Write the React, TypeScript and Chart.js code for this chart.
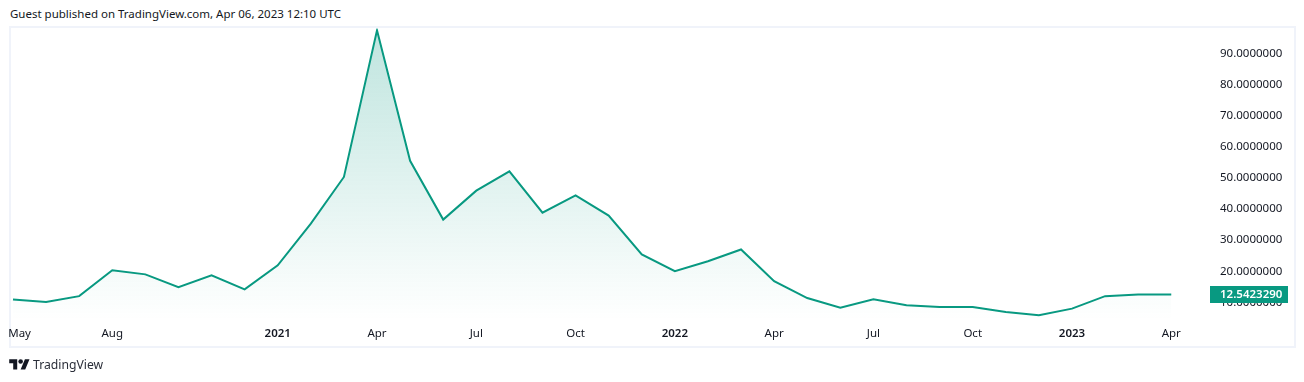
import React, { useEffect, useRef } from "react";
import { Chart, registerables } from "chart.js";

Chart.register(...registerables);

const prices = [
  10.9, 10.1, 12, 20.3, 19, 14.9, 18.7, 14.2, 21.9, 35.3, 50.3, 97.4, 55.5, 36.6, 45.9, 52.1, 38.8, 44.4,
  37.9, 25.4, 20, 23.2, 27, 16.8, 11.4, 8.3, 11, 9.1, 8.5, 8.5, 6.9, 5.9, 8, 12, 12.5, 12.5423290,
];
const xTickPositions = [0.2, 3, 8, 11, 14, 17, 20, 23, 26, 29, 32, 35];
const xTickLabels = ["May", "Aug", "2021", "Apr", "Jul", "Oct", "2022", "Apr", "Jul", "Oct", "2023", "Apr"];
const yTicks = [10, 20, 30, 40, 50, 60, 70, 80, 90];
const lastPriceLabel = "12.5423290";
const lastPrice = 12.5423290;
const headerText = "Guest published on TradingView.com, Apr 06, 2023 12:10 UTC";
const brandText = "TradingView";

const GREEN = "#089981";
const INK = "#131722";
const FONT = '"Noto Sans", sans-serif';

const priceTag = {
  id: "priceTag",
  afterDraw(chart: any) {
    const { ctx, scales } = chart;
    const y = scales.y.getPixelForValue(lastPrice);
    ctx.save();
    ctx.fillStyle = GREEN;
    ctx.fillRect(1210, Math.round(y) - 8, 78, 17);
    ctx.fillStyle = "#ffffff";
    ctx.font = `600 11.5px ${FONT}`;
    ctx.textAlign = "left";
    ctx.textBaseline = "middle";
    ctx.fillText(lastPriceLabel, 1220, Math.round(y) + 1);
    ctx.restore();
  },
};

export default function App() {
  const ref = useRef<HTMLCanvasElement>(null);

  useEffect(() => {
    const canvas = ref.current!;
    const chart = new Chart(canvas, {
      type: "line",
      plugins: [priceTag],
      data: {
        labels: prices.map((_, i) => i),
        datasets: [
          {
            data: prices.map((v, i) => ({ x: i, y: v })),
            borderColor: GREEN,
            borderWidth: 2,
            pointRadius: 0,
            tension: 0,
            borderJoinStyle: "miter",
            fill: { value: 4.34 },
            backgroundColor: (c: any) => {
              const a = c.chart.chartArea;
              if (!a) return "transparent";
              const g = c.chart.ctx.createLinearGradient(0, a.top, 0, a.bottom);
              g.addColorStop(0, "rgba(8,153,129,0.26)");
              g.addColorStop(1, "rgba(8,153,129,0)");
              return g;
            },
          },
        ],
      },
      options: {
        animation: false,
        responsive: false,
        layout: { padding: { left: 10, top: 28.5, right: 0, bottom: 0 } },
        plugins: { legend: { display: false }, tooltip: { enabled: false }, title: { display: false } },
        scales: {
          x: {
            type: "linear",
            min: -0.09,
            max: 36.11,
            grid: { display: false, drawTicks: false },
            border: { display: false },
            afterBuildTicks: (s: any) => {
              s.ticks = xTickPositions.map((value) => ({ value }));
            },
            afterFit: (s: any) => {
              s.height = 62;
            },
            ticks: {
              autoSkip: false,
              maxRotation: 0,
              padding: 7,
              callback: (value: any) => xTickLabels[xTickPositions.indexOf(Number(value))],
              color: INK,
              font: (c: any) => {
                const label = xTickLabels[c.index] ?? "";
                return { family: FONT, size: 11.5, weight: /^\d/.test(label) ? 600 : 400 };
              },
            },
          },
          y: {
            type: "linear",
            position: "right",
            min: 4.34,
            max: 98,
            grid: { display: false, drawTicks: false },
            border: { display: false },
            afterBuildTicks: (s: any) => {
              s.ticks = yTicks.map((value) => ({ value }));
            },
            afterFit: (s: any) => {
              s.width = 96;
            },
            ticks: {
              autoSkip: false,
              padding: 12,
              crossAlign: "near",
              color: INK,
              font: { family: FONT, size: 11.5 },
              callback: (value: any) => Number(value).toFixed(7),
            },
          },
        },
      },
    } as any);
    return () => chart.destroy();
  }, []);

  return (
    <div style={{ position: "fixed", left: 0, top: 0, width: 1304, height: 382, background: "#fff", overflow: "hidden", fontFamily: FONT, color: INK }}>
      <div style={{ position: "absolute", left: 10, top: 6, fontSize: 11.5, lineHeight: "16px", whiteSpace: "nowrap" }}>{headerText}</div>
      <div style={{ position: "absolute", left: 9, top: 26, width: 1283, height: 318, border: "2px solid #f0f3fa" }} />
      <canvas ref={ref} width={1304} height={382} style={{ position: "absolute", left: 0, top: 0 }} />
      <svg style={{ position: "absolute", left: 9, top: 357 }} width="21" height="16" viewBox="0 0 36 28">
        <path fill={INK} d="M14 22H7V11H0V4h14v18ZM28 22h-8l7.5-18h8L28 22Z" />
        <circle cx="20" cy="8" r="4" fill={INK} />
      </svg>
      <div style={{ position: "absolute", left: 33, top: 356, fontSize: 12.2, lineHeight: "18px", color: "#2a2e39", whiteSpace: "nowrap" }}>{brandText}</div>
    </div>
  );
}
